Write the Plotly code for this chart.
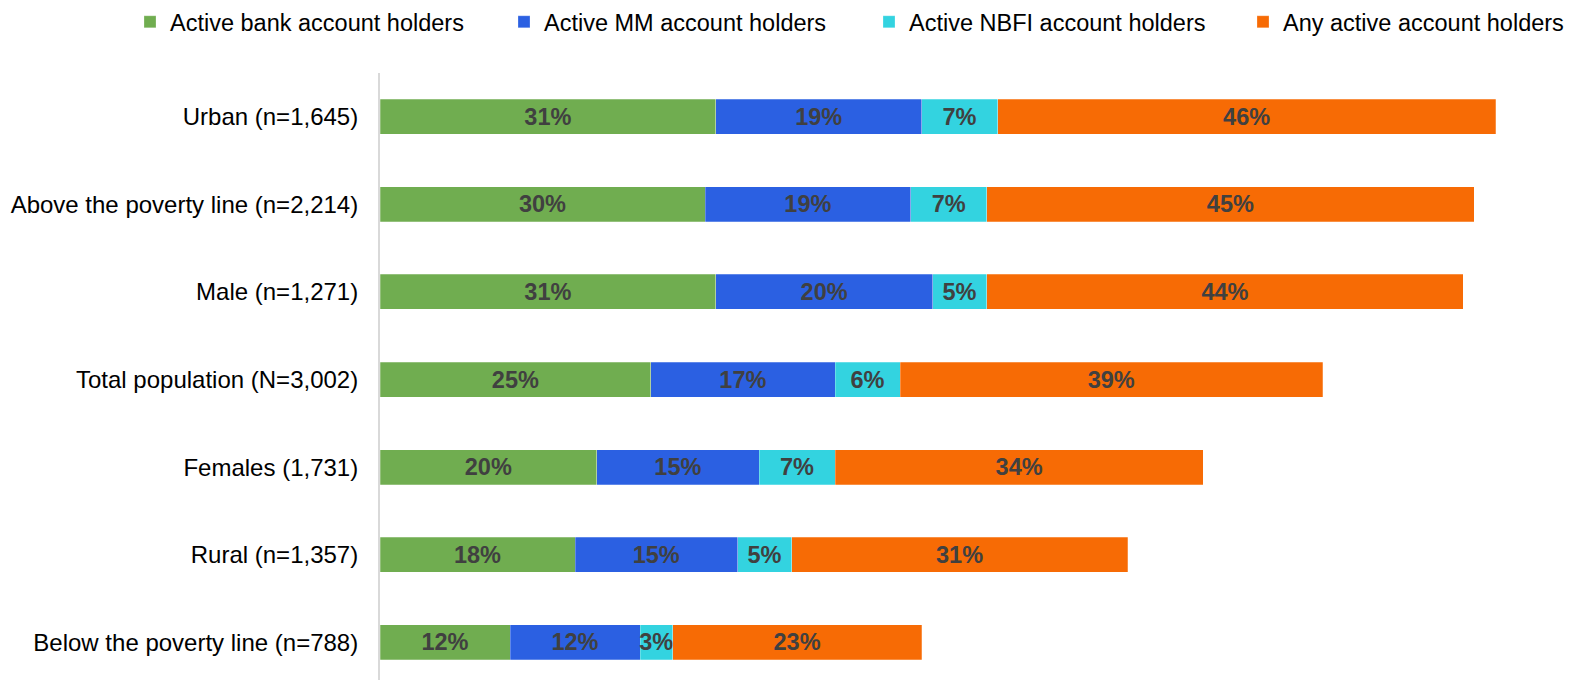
import plotly.graph_objects as go

# categories listed bottom to top
categories = [
    'Below the poverty line (n=788)',
    'Rural (n=1,357)',
    'Females (1,731)',
    'Total population (N=3,002)',
    'Male (n=1,271)',
    'Above the poverty line (n=2,214)',
    'Urban (n=1,645)',
]
bank = [12, 18, 20, 25, 31, 30, 31]
mobile_money = [12, 15, 15, 17, 20, 19, 19]
nbfi = [3, 5, 7, 6, 5, 7, 7]
any_account = [23, 31, 34, 39, 44, 45, 46]

series = [
    ('Active bank account holders', bank, '#70AD50'),
    ('Active MM account holders', mobile_money, '#2B60E2'),
    ('Active NBFI account holders', nbfi, '#33D3E0'),
    ('Any active account holders', any_account, '#F76B05'),
]

FONT = 'Liberation Sans, Arial, sans-serif'
# page body has an 8px margin, so the figure is sized to sit inside the window
W, H = 1565, 672
L, R, T, B = 372, 23, 65, 0
plot_w = W - L - R
plot_h = H - T - B

# left edge of each legend entry, in figure pixels
legend_left = [122, 496, 861, 1235]
legend_ids = ['legend', 'legend2', 'legend3', 'legend4']

fig = go.Figure()
for (name, vals, color), lid in zip(series, legend_ids):
    fig.add_trace(go.Bar(
        y=categories,
        x=vals,
        name=name,
        orientation='h',
        legend=lid,
        marker=dict(color=color, line=dict(color='rgba(255,255,255,0.5)', width=0.5)),
        text=[f'{v}%' for v in vals],
        textposition='inside',
        insidetextanchor='middle',
        textangle=0,
        textfont=dict(family=FONT, size=23.5, color='#404040', weight='bold'),
        hoverinfo='skip',
    ))

legend_style = dict(
    orientation='h',
    xanchor='left',
    y=1 + (T - 14) / plot_h,
    yanchor='middle',
    font=dict(size=23.5, color='#000000'),
    itemwidth=30,
    itemclick=False,
    itemdoubleclick=False,
    bgcolor='rgba(0,0,0,0)',
)
legends = {
    lid: dict(legend_style, x=(lx - L) / plot_w)
    for lid, lx in zip(legend_ids, legend_left)
}

fig.update_layout(
    barmode='stack',
    bargap=0.6,
    width=W,
    height=H,
    margin=dict(l=L, r=R, t=T, b=B, autoexpand=False),
    plot_bgcolor='white',
    paper_bgcolor='white',
    font=dict(family=FONT, size=24, color='#000000'),
    uniformtext=dict(minsize=23.5, mode='show'),
    showlegend=True,
    **legends,
)
fig.update_xaxes(range=[0, 108], visible=False, fixedrange=True)
fig.update_yaxes(
    range=[-0.43, 6.5],
    showline=True,
    linecolor='#d9d9d9',
    linewidth=2,
    showgrid=False,
    ticks='',
    ticklabelstandoff=15,
    automargin=False,
    fixedrange=True,
)

fig.write_html('out.html')
